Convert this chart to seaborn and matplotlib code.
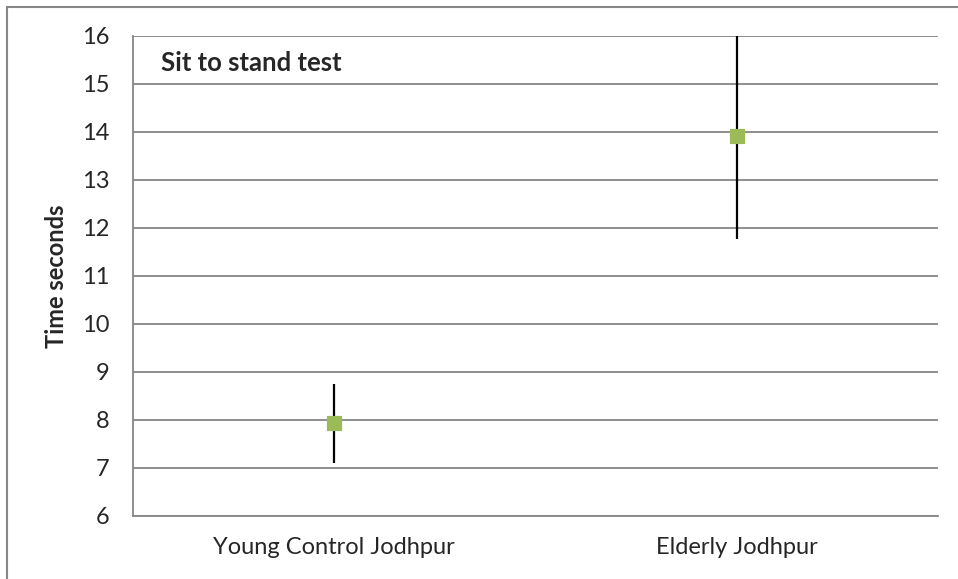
import matplotlib
matplotlib.use("Agg")
import matplotlib.pyplot as plt
import seaborn as sns
import pandas as pd

# data
groups = ["Young Control Jodhpur", "Elderly Jodhpur"]
means = [7.93, 13.92]
errs = [0.83, 2.15]

df = pd.DataFrame({"group": groups, "mean": means, "err": errs})

sns.set_style("white")
plt.rcParams["font.family"] = ["Lato", "DejaVu Sans"]

fig = plt.figure(figsize=(9.58, 5.79), dpi=100)
ax = fig.add_axes([133 / 958, 1 - 516 / 579, (938 - 133) / 958, (516 - 36) / 579])

# outer chart frame (only left/top visible in reference)
fig.add_artist(plt.Line2D([7 / 958, 7 / 958], [0, 1 - 7 / 579], color="#868686", lw=1.5))
fig.add_artist(plt.Line2D([7 / 958, 1], [1 - 7 / 579, 1 - 7 / 579], color="#868686", lw=1.5))

pos = list(range(len(groups)))
ax.errorbar(pos, df["mean"], yerr=df["err"], fmt="none", ecolor="black", elinewidth=1.6, capsize=0, zorder=3)
sns.scatterplot(x=pos, y=df["mean"], marker="s", s=115, color="#9BBB59", edgecolor="#9BBB59", ax=ax, zorder=4)

ax.set_xlim(-0.5, 1.5)
ax.set_ylim(6, 16)
ax.set_yticks(range(6, 17))
ax.set_xticks(pos)
ax.set_xticklabels(groups, fontsize=17)
ax.set_xticks([-0.5, 0.5, 1.5], minor=True)
ax.tick_params(axis="x", which="major", length=0, pad=15)
ax.tick_params(axis="x", which="minor", length=6, width=1.2, color="#868686", direction="out")
ax.tick_params(axis="y", length=6, width=1.2, color="#868686", direction="out", labelsize=17, pad=11)
ax.yaxis.grid(True, color="#868686", lw=1.3)
ax.set_axisbelow(True)

for s in ["top", "right"]:
    ax.spines[s].set_visible(False)
for s in ["left", "bottom"]:
    ax.spines[s].set_color("#868686")
    ax.spines[s].set_linewidth(1.3)

ax.set_ylabel("Time seconds", fontsize=17, fontweight="bold", labelpad=10)
ax.set_xlabel("")
ax.text(0.035, 0.944, "Sit to stand test", transform=ax.transAxes, fontsize=18.5, fontweight="bold", va="center", ha="left")

fig.savefig("out.png", dpi=100)
